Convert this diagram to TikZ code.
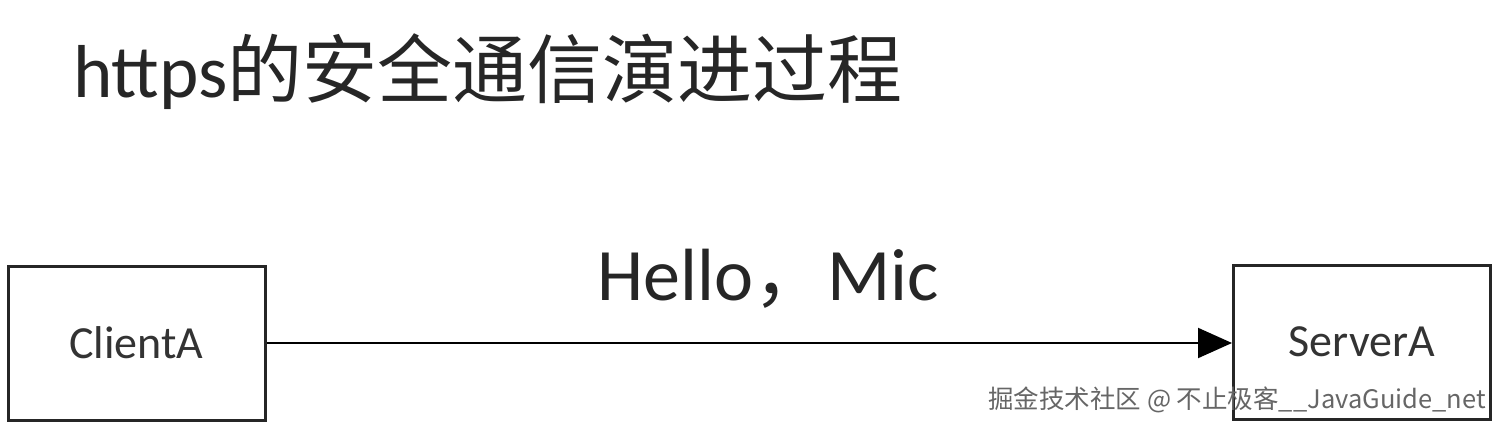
\documentclass[tikz,border=0pt]{standalone}
\usepackage{fontspec}
\setmainfont{Carlito}
\newfontfamily\cjk{Noto Sans CJK SC}
\usetikzlibrary{arrows.meta}
\tikzset{
  box/.style={draw=black!85, line width=3pt, minimum width=257pt, minimum height=154pt, inner sep=0pt, font=\fontsize{46}{54}\selectfont, text=black!80},
  conn/.style={draw=black, line width=2pt, -{Triangle[length=34pt,width=30pt]}},
}
\begin{document}
\begin{tikzpicture}[x=1pt,y=-1pt]
\useasboundingbox (0,0) rectangle (1500,428);
\node[anchor=west, inner sep=0pt, font=\fontsize{75}{82}\selectfont, text=black!85] (title) at (73,72) {https{\cjk 的安全通信演进过程}};
\node[box] (client) at (136.5,343) {ClientA};
\node[box] (server) at (1362,342) {ServerA};
\draw[conn] (client.east) -- (server.west |- client.east);
\node[inner sep=0pt, font=\fontsize{74}{80}\selectfont, text=black!85] (label) at (768,279) {Hello{\cjk ，}Mic};
\node[anchor=east, inner sep=0pt, font=\cjk\fontsize{25.5}{28}\selectfont, text=black!60] (wm) at (1486,400) {掘金技术社区 @ 不止极客\_\_JavaGuide\_net};
\end{tikzpicture}
\end{document}
